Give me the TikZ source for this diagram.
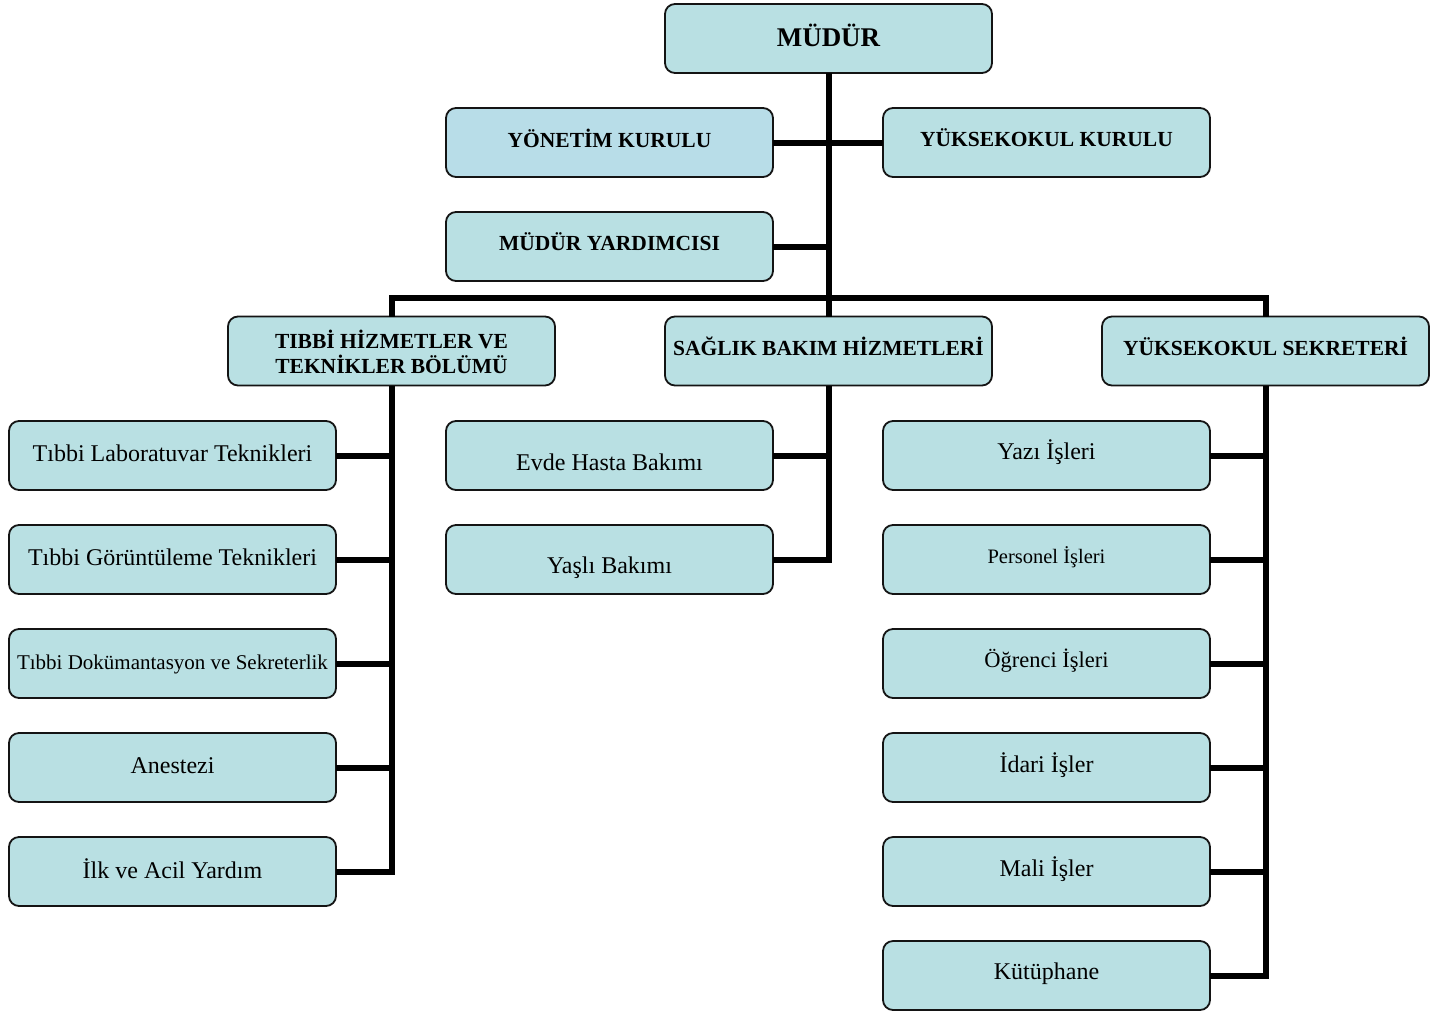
\documentclass[tikz,border=0pt]{standalone}
\usepackage{fontspec}
\setmainfont{Liberation Serif}
\definecolor{boxfill}{RGB}{185,224,227}
\definecolor{boxfillb}{RGB}{184,221,232}
\definecolor{boxline}{RGB}{20,20,20}
\begin{document}
\begin{tikzpicture}[x=1pt,y=-1pt,
  box/.style={draw=boxline,line width=1.8pt,fill=boxfill,rounded corners=10pt,
    minimum width=327pt,minimum height=69pt,inner sep=0pt,outer sep=0pt},
  hdr/.style={font=\fontsize{21.5}{25}\selectfont\bfseries,align=center},
  bod/.style={font=\fontsize{24}{28}\selectfont},
  conn/.style={line width=6pt,line join=miter,black}]
\useasboundingbox[fill=white] (0,0) rectangle (1448,1013);

% top level
\node[box,label={[hdr,font=\fontsize{27}{30}\selectfont\bfseries,yshift=3pt]center:MÜDÜR}] (mud) at (828.5,38.5) {};
\node[box,fill=boxfillb,label={[hdr,yshift=4.5pt]center:YÖNETİM KURULU}] (yk) at (609.5,142.5) {};
\node[box,label={[hdr,yshift=4.5pt]center:YÜKSEKOKUL KURULU}] (ykk) at (1046.5,142.5) {};
\node[box,label={[hdr,yshift=4.5pt]center:MÜDÜR YARDIMCISI}] (my) at (609.5,246.5) {};

% second level
\node[box,label={[hdr,yshift=-1pt]center:TIBBİ HİZMETLER VE\\TEKNİKLER BÖLÜMÜ}] (tb) at (391.5,351) {};
\node[box,label={[hdr,yshift=5pt]center:SAĞLIK BAKIM HİZMETLERİ}] (sb) at (828.5,351) {};
\node[box,label={[hdr,yshift=5pt]center:YÜKSEKOKUL SEKRETERİ}] (ys) at (1265.5,351) {};

% left column
\node[box,label={[bod,yshift=2.5pt]center:Tıbbi Laboratuvar Teknikleri}] (l1) at (172.5,455.5) {};
\node[box,label={[bod,yshift=2pt]center:Tıbbi Görüntüleme Teknikleri}] (l2) at (172.5,559.5) {};
\node[box,label={[bod,font=\fontsize{21}{24}\selectfont,yshift=-1pt]center:Tıbbi Dokümantasyon ve Sekreterlik}] (l3) at (172.5,663.5) {};
\node[box,label={[bod,yshift=1.5pt]center:Anestezi}] (l4) at (172.5,767.5) {};
\node[box,label={[bod,yshift=3pt]center:İlk ve Acil Yardım}] (l5) at (172.5,871.5) {};

% middle column
\node[box,label={[bod,yshift=-7pt]center:Evde Hasta Bakımı}] (m1) at (609.5,455.5) {};
\node[box,label={[bod,yshift=-8pt]center:Yaşlı Bakımı}] (m2) at (609.5,559.5) {};

% right column
\node[box,label={[bod,yshift=3pt]center:Yazı İşleri}] (r1) at (1046.5,455.5) {};
\node[box,label={[bod,font=\fontsize{20.5}{24}\selectfont,yshift=2.5pt]center:Personel İşleri}] (r2) at (1046.5,559.5) {};
\node[box,label={[bod,font=\fontsize{22.5}{26}\selectfont,yshift=2.5pt]center:Öğrenci İşleri}] (r3) at (1046.5,663.5) {};
\node[box,label={[bod,yshift=2pt]center:İdari İşler}] (r4) at (1046.5,767.5) {};
\node[box,label={[bod,yshift=2pt]center:Mali İşler}] (r5) at (1046.5,871.5) {};
\node[box,label={[bod,yshift=2pt]center:Kütüphane}] (r6) at (1046.5,975.5) {};

\coordinate (bus) at (828.5,298);

% top connectors
\draw[conn] (mud.south) -- (sb.north);
\draw[conn] (yk.east) -- (ykk.west);
\draw[conn] (my.east) -- (my.east -| mud.south);
\draw[conn] (tb.north) |- (bus) -| (ys.north);

% left column
\draw[conn] (tb.south) |- (l5.east);
\foreach \n in {l1,l2,l3,l4} \draw[conn] (\n.east) -- (\n.east -| tb.south);

% middle column
\draw[conn] (sb.south) |- (m2.east);
\draw[conn] (m1.east) -- (m1.east -| sb.south);

% right column
\draw[conn] (ys.south) |- (r6.east);
\foreach \n in {r1,r2,r3,r4,r5} \draw[conn] (\n.east) -- (\n.east -| ys.south);
\end{tikzpicture}
\end{document}
